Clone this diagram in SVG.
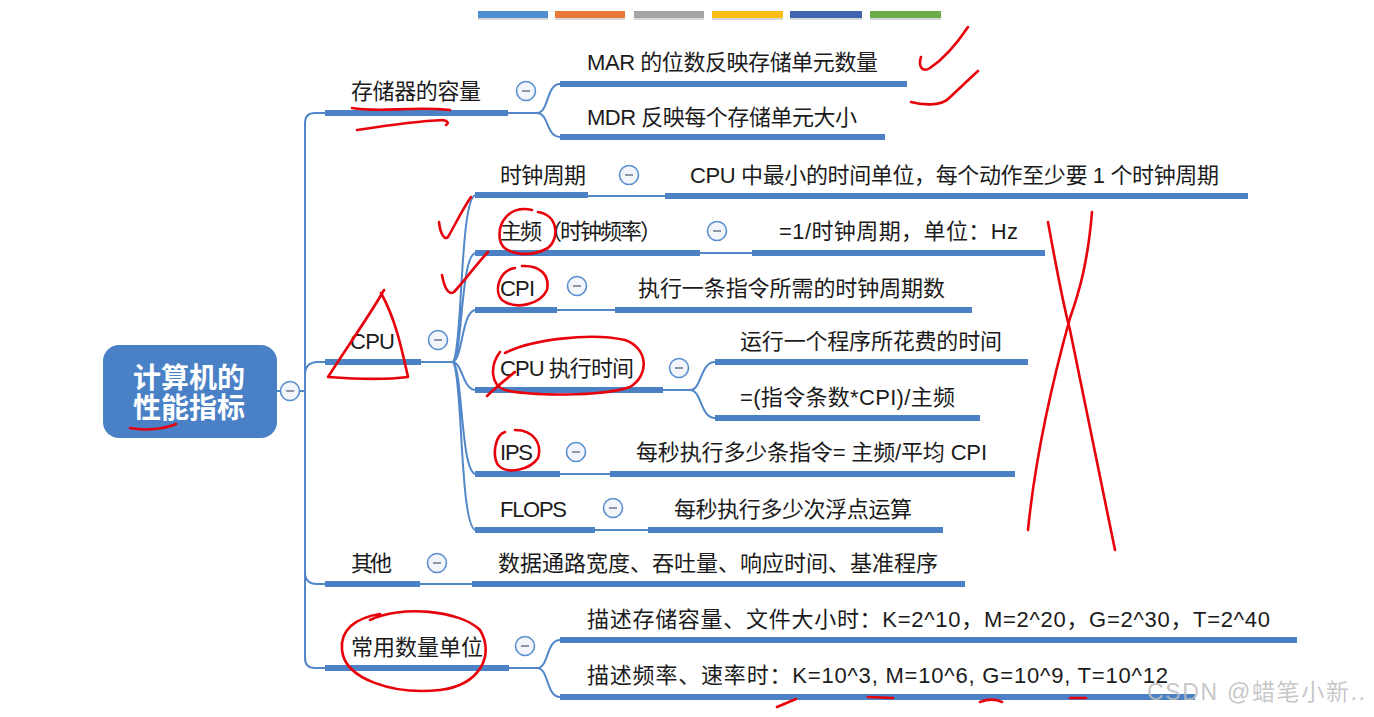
<svg xmlns="http://www.w3.org/2000/svg" width="1374" height="717" viewBox="0 0 1374 717">
<style>
.t{font-family:"Liberation Sans","Noto Sans CJK SC",sans-serif;font-size:22px;fill:#1b1b1b}
.root{font-family:"Noto Sans CJK SC",sans-serif;font-size:28px;font-weight:bold;fill:#ffffff}
.bar{fill:#4c82c5}
.ln{fill:none;stroke:#5288c8;stroke-width:2}
.c circle{fill:#f2f6fb;stroke:#5a8fcf;stroke-width:1.6}
.c line{stroke:#8c98a8;stroke-width:2}
.red{fill:none;stroke:#e8000a;stroke-width:2.6;stroke-linecap:round;stroke-linejoin:round}
.wm{font-family:"Liberation Sans","Noto Sans CJK SC",sans-serif;font-size:23px;fill:#bdbdbd;fill-opacity:0.85}
</style>
<rect width="1374" height="717" fill="#ffffff"/>
<g id="palette">
<rect x="478" y="12" width="70" height="8" fill="#d8d8d8"/>
<rect x="478" y="11" width="70" height="7" fill="#4f8fcf"/>
<rect x="555" y="12" width="70" height="8" fill="#d8d8d8"/>
<rect x="555" y="11" width="70" height="7" fill="#e7793a"/>
<rect x="634" y="12" width="70" height="8" fill="#d8d8d8"/>
<rect x="634" y="11" width="70" height="7" fill="#a5a5a5"/>
<rect x="712" y="12" width="71" height="8" fill="#d8d8d8"/>
<rect x="712" y="11" width="71" height="7" fill="#fbbe16"/>
<rect x="790" y="12" width="72" height="8" fill="#d8d8d8"/>
<rect x="790" y="11" width="72" height="7" fill="#3f65b1"/>
<rect x="870" y="12" width="71" height="8" fill="#d8d8d8"/>
<rect x="870" y="11" width="71" height="7" fill="#6bab49"/>
</g>
<g id="connectors">
<path class="ln" d="M277,391 H281 M299,391 H305"/>
<path class="ln" d="M325,113 H315 Q305,113 305,123 V658 Q305,668 315,668 H325"/>
<path class="ln" d="M305,375 Q305,362 318,362 H325"/>
<path class="ln" d="M305,572 Q305,584 317,584 H325"/>
<path class="ln" d="M508,113 H537 C549,113 546,84 560,84 M537,113 C549,113 546,137 560,137"/>
<path class="ln" d="M421,362 H452"/>
<path class="ln" d="M452,362 C463,362 459,195 476,195 M452,362 C463,362 460,253 476,253 M452,362 C463,362 461,310 476,310 M452,362 C463,362 462,390 476,390 M452,362 C463,362 460,474 476,474 M452,362 C463,362 459,530 476,530"/>
<path class="ln" d="M588,196 H665 M700,253 H752 M557,310 H615 M560,474 H610 M595,530 H648 M420,584 H472"/>
<path class="ln" d="M663,390 H690 C702,390 700,362 715,362 M690,390 C702,390 700,418 715,418"/>
<path class="ln" d="M509,668 H537 C549,668 546,640 560,640 M537,668 C549,668 546,697 560,697"/>
</g>
<g id="root">
<rect x="103" y="345" width="174" height="93" rx="16" fill="#4a81c6"/>
<text class="root" x="133" y="388" textLength="112">计算机的</text>
<text class="root" x="133" y="418" textLength="112">性能指标</text>
<g class="c"><circle cx="290" cy="391" r="9.5"/><line x1="286" y1="391" x2="294" y2="391"/></g>
</g>
<g id="storage">
<text class="t" x="351" y="99" textLength="130">存储器的容量</text>
<rect class="bar" x="325" y="110" width="183" height="6"/>
<g class="c"><circle cx="526" cy="91" r="9.5"/><line x1="522" y1="91" x2="530" y2="91"/></g>
</g>
<g id="mar">
<text class="t" x="587" y="70" textLength="291">MAR 的位数反映存储单元数量</text>
<rect class="bar" x="560" y="81" width="347" height="6"/>
</g>
<g id="mdr">
<text class="t" x="587" y="125" textLength="270">MDR 反映每个存储单元大小</text>
<rect class="bar" x="560" y="134" width="325" height="6"/>
</g>
<g id="cpu">
<text class="t" x="350" y="349" textLength="45">CPU</text>
<rect class="bar" x="325" y="359" width="96" height="6"/>
<g class="c"><circle cx="438" cy="340" r="9.5"/><line x1="434" y1="340" x2="442" y2="340"/></g>
</g>
<g id="clock">
<text class="t" x="500" y="183" textLength="86">时钟周期</text>
<rect class="bar" x="475" y="192" width="113" height="6"/>
<g class="c"><circle cx="629" cy="175" r="9.5"/><line x1="625" y1="175" x2="633" y2="175"/></g>
</g>
<g id="clock-desc">
<text class="t" x="690" y="183" textLength="529">CPU 中最小的时间单位，每个动作至少要 1 个时钟周期</text>
<rect class="bar" x="665" y="193" width="583" height="6"/>
</g>
<g id="freq">
<text class="t" x="500" y="239" textLength="162">主频（时钟频率）</text>
<rect class="bar" x="475" y="250" width="225" height="6"/>
<g class="c"><circle cx="717" cy="231" r="9.5"/><line x1="713" y1="231" x2="721" y2="231"/></g>
</g>
<g id="freq-desc">
<text class="t" x="779" y="239" textLength="239">=1/时钟周期，单位：Hz</text>
<rect class="bar" x="752" y="250" width="293" height="6"/>
</g>
<g id="cpi">
<text class="t" x="500" y="296" textLength="35">CPI</text>
<rect class="bar" x="475" y="307" width="82" height="6"/>
<g class="c"><circle cx="577" cy="286" r="9.5"/><line x1="573" y1="286" x2="581" y2="286"/></g>
</g>
<g id="cpi-desc">
<text class="t" x="638" y="296" textLength="307">执行一条指令所需的时钟周期数</text>
<rect class="bar" x="615" y="307" width="357" height="6"/>
</g>
<g id="exec">
<text class="t" x="500" y="376" textLength="134">CPU 执行时间</text>
<rect class="bar" x="475" y="387" width="188" height="6"/>
<g class="c"><circle cx="679" cy="368" r="9.5"/><line x1="675" y1="368" x2="683" y2="368"/></g>
</g>
<g id="exec-1">
<text class="t" x="740" y="349" textLength="262">运行一个程序所花费的时间</text>
<rect class="bar" x="715" y="359" width="313" height="6"/>
</g>
<g id="exec-2">
<text class="t" x="740" y="405" textLength="215">=(指令条数*CPI)/主频</text>
<rect class="bar" x="715" y="415" width="265" height="6"/>
</g>
<g id="ips">
<text class="t" x="500" y="460" textLength="33">IPS</text>
<rect class="bar" x="475" y="471" width="85" height="6"/>
<g class="c"><circle cx="576" cy="452" r="9.5"/><line x1="572" y1="452" x2="580" y2="452"/></g>
</g>
<g id="ips-desc">
<text class="t" x="636" y="460" textLength="351">每秒执行多少条指令= 主频/平均 CPI</text>
<rect class="bar" x="610" y="471" width="405" height="6"/>
</g>
<g id="flops">
<text class="t" x="500" y="517" textLength="67">FLOPS</text>
<rect class="bar" x="475" y="527" width="120" height="6"/>
<g class="c"><circle cx="613" cy="508" r="9.5"/><line x1="609" y1="508" x2="617" y2="508"/></g>
</g>
<g id="flops-desc">
<text class="t" x="674" y="517" textLength="238">每秒执行多少次浮点运算</text>
<rect class="bar" x="648" y="527" width="295" height="6"/>
</g>
<g id="other">
<text class="t" x="351" y="571" textLength="41">其他</text>
<rect class="bar" x="325" y="581" width="95" height="6"/>
<g class="c"><circle cx="437" cy="563" r="9.5"/><line x1="433" y1="563" x2="441" y2="563"/></g>
</g>
<g id="other-desc">
<text class="t" x="498" y="571" textLength="440">数据通路宽度、吞吐量、响应时间、基准程序</text>
<rect class="bar" x="472" y="581" width="493" height="6"/>
</g>
<g id="units">
<text class="t" x="351" y="655" textLength="132">常用数量单位</text>
<rect class="bar" x="325" y="665" width="184" height="6"/>
<g class="c"><circle cx="525" cy="646" r="9.5"/><line x1="521" y1="646" x2="529" y2="646"/></g>
</g>
<g id="units-1">
<text class="t" x="587" y="627" textLength="683">描述存储容量、文件大小时：K=2^10，M=2^20，G=2^30，T=2^40</text>
<rect class="bar" x="560" y="637" width="737" height="6"/>
</g>
<g id="units-2">
<text class="t" x="587" y="683" textLength="581">描述频率、速率时：K=10^3, M=10^6, G=10^9, T=10^12</text>
<rect class="bar" x="560" y="694" width="635" height="6"/>
</g>
<g id="annotations">
<path class="red" d="M921,57 C918,66 922,73 930,68 C945,58 958,42 968,27"/>
<path class="red" d="M911,102 C925,106 942,105 948,99 C958,90 968,80 978,71"/>
<path class="red" d="M352,108 C380,113 410,106 450,110"/>
<path class="red" d="M357,130 C390,125 420,121 443,120 C448,121 449,123 446,125"/>
<path class="red" d="M384,290 C370,315 345,350 328,377 C355,379 385,380 408,377 C402,350 396,320 381,293"/>
<path class="red" d="M130,428 C145,431 165,429 176,424"/>
<path class="red" d="M439,222 C440,232 444,241 448,237 C455,225 462,210 471,197"/>
<path class="red" d="M442,275 C444,286 448,296 454,292 C465,280 475,266 488,252"/>
<path class="red" d="M532,210 C510,205 497,222 500,240 C503,255 530,258 548,248 C560,238 558,215 538,212"/>
<path class="red" d="M515,268 C500,270 493,290 502,300 C515,310 540,305 547,290 C550,275 540,265 522,266"/>
<path class="red" d="M505,353 C530,340 590,332 625,340 C648,348 650,375 630,387 C600,397 530,396 505,390 C490,385 490,365 500,352 M487,396 C495,388 505,380 515,372"/>
<path class="red" d="M505,432 C495,435 492,455 498,465 C507,475 530,470 538,458 C542,445 535,430 515,430"/>
<path class="red" d="M1048,222 C1055,260 1062,300 1070,330 C1085,400 1100,480 1115,550"/>
<path class="red" d="M1092,212 C1088,260 1080,290 1070,318 C1050,390 1035,460 1028,530"/>
<path class="red" d="M370,620 C400,605 460,610 480,630 C495,655 480,685 440,690 C395,695 345,680 342,650 C340,630 355,618 380,614"/>
<path class="red" d="M777,707 L796,699 M868,697 L893,698 M980,702 C988,699 996,699 1002,702 M1070,698 L1086,698"/>
</g>
<text class="wm" x="1147" y="700" textLength="218">CSDN @蜡笔小新..</text>
</svg>
